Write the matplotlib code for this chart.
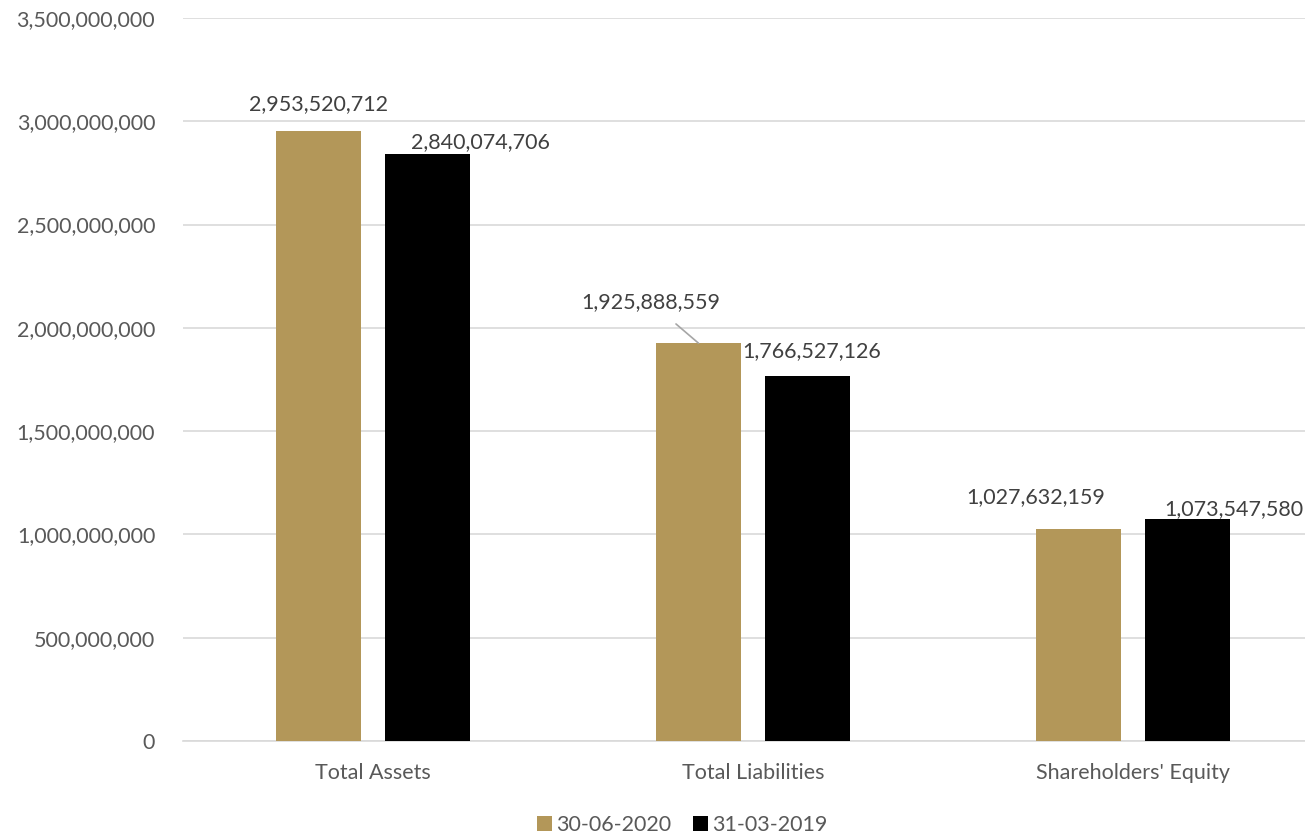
import numpy as np
import matplotlib
matplotlib.use("Agg")
import matplotlib.pyplot as plt
from matplotlib.ticker import FuncFormatter

plt.rcParams['font.family'] = ['Lato', 'DejaVu Sans']

categories = ["Total Assets", "Total Liabilities", "Shareholders' Equity"]
series_names = ["30-06-2020", "31-03-2019"]
values_2020 = [2953520712, 1925888559, 1027632159]
values_2019 = [2840074706, 1766527126, 1073547580]

gold = '#B39759'
black = '#000000'
txt = '#595959'
fs = 15.5

fig = plt.figure(figsize=(13.05, 8.36), dpi=100)
ax = fig.add_axes([183/1305, 95/836, 1 - 183/1305, (741-18)/836])

x = np.arange(len(categories))
w = 0.224
off = 0.1435
b1 = ax.bar(x - off, values_2020, w, color=gold, label=series_names[0], zorder=3)
b2 = ax.bar(x + off, values_2019, w, color=black, label=series_names[1], zorder=3)

ax.set_xlim(-0.5, -0.5 + 1122/380)
ax.set_ylim(0, 3.5e9)
ax.set_yticks(np.arange(0, 3.5e9 + 1, 5e8))
ax.yaxis.set_major_formatter(FuncFormatter(lambda v, p: f'{v:,.0f}'))
ax.set_xticks(x)
ax.set_xticklabels(categories)
ax.tick_params(axis='both', length=0, labelsize=fs, colors=txt)
ax.tick_params(axis='y', pad=20)
ax.tick_params(axis='x', pad=16)
ax.grid(axis='y', color='#d9d9d9', lw=1.2, zorder=0)
for s in ['top', 'right', 'left']:
    ax.spines[s].set_visible(False)
ax.spines['bottom'].set_color('#d9d9d9')
ax.spines['bottom'].set_linewidth(1.2)

# label offsets in pixels from bar top centre
px = 0.72
offs_2020 = [(0, 27), (-48, 41), (-43, 32)]
offs_2019 = [(53, 12), (4, 25), (46, 10)]
for bars, vals, offs in [(b1, values_2020, offs_2020), (b2, values_2019, offs_2019)]:
    for i, (r, v) in enumerate(zip(bars, vals)):
        dx, dy = offs[i]
        kw = {}
        if bars is b1 and i == 1:
            kw = dict(arrowprops=dict(arrowstyle='-', color='#a6a6a6', lw=1.2,
                                      shrinkA=10, shrinkB=0))
        ax.annotate(f'{v:,}', xy=(r.get_x() + r.get_width()/2, v),
                    xytext=(dx*px, dy*px), textcoords='offset points',
                    ha='center', va='center', fontsize=fs, color='#404040', **kw)

fig.legend(loc='lower center', bbox_to_anchor=(0.523, -0.022), ncol=2, frameon=False,
           fontsize=fs, handlelength=0.7, handleheight=0.7, handletextpad=0.2,
           columnspacing=1.0, labelcolor=txt)

fig.savefig('out.png', dpi=100)
